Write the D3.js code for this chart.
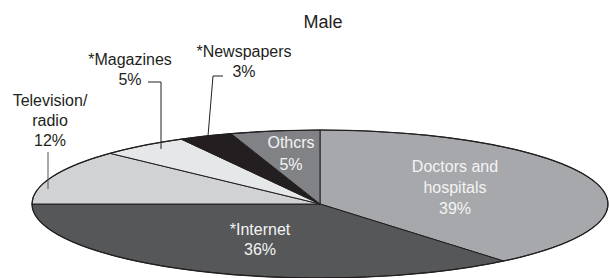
<!DOCTYPE html>
<html>
<head>
<meta charset="utf-8">
<script src="https://cdn.jsdelivr.net/npm/d3@7"></script>
<style>
  body { margin: 0; background: #fff; }
  text { font-family: "Liberation Sans", Arial, sans-serif; }
</style>
</head>
<body>
<div id="chart"></div>
<script>
var svgWidth = 610;
var svgHeight = 278;

// data
var categories = ["Doctors and hospitals", "*Internet", "Television/radio", "*Magazines", "*Newspapers", "Othcrs"];
var shares = [39, 36, 12, 5, 3, 5];
var labelLines = [["Doctors and", "hospitals"], ["*Internet"], ["Television/", "radio"], ["*Magazines"], ["*Newspapers"], ["Othcrs"]];
var title = "Male";

// styling
var fills = ["#a7a8ab", "#555759", "#d1d2d4", "#e6e7e8", "#231f20", "#808285"];
var inside = [true, true, false, false, false, true];

// ellipse geometry
var cx = 320, cy = 204, rx = 288, ry = 74;

// label anchors (centre x, first baseline y)
var labelPos = [[455, 172], [260, 235], [50, 106], [130, 65], [244, 57], [291, 148]];
var lineGap = [21, 20, 20, 20, 20, 22];

var svg = d3.select("#chart")
    .append("svg")
    .attr("width", svgWidth)
    .attr("height", svgHeight);

svg.append("text")
    .attr("x", 323)
    .attr("y", 28)
    .attr("text-anchor", "middle")
    .attr("font-size", "18px")
    .attr("fill", "#231f20")
    .text(title);

var pie = d3.pie().sort(null).value(d => d);
var arcs = pie(shares);

var arc = d3.arc().innerRadius(0).outerRadius(rx);

// pie drawn as a circle then squashed into an ellipse
var pieGroup = svg.append("g")
    .attr("transform", `translate(${cx}, ${cy}) scale(1, ${ry / rx})`);

pieGroup.selectAll("path")
    .data(arcs)
    .enter()
    .append("path")
    .attr("d", arc)
    .attr("fill", (d, i) => fills[i])
    .attr("stroke", "#231f20")
    .attr("stroke-width", 1)
    .attr("stroke-linejoin", "round")
    .attr("vector-effect", "non-scaling-stroke");

pieGroup.append("ellipse")
    .attr("rx", rx)
    .attr("ry", rx)
    .attr("fill", "none")
    .attr("stroke", "#231f20")
    .attr("stroke-width", 1.2)
    .attr("vector-effect", "non-scaling-stroke");

// leader lines for the outside labels
var leaders = [
  null,
  null,
  [[48, 152], [48, 189]],
  [[148, 82], [161, 82], [161, 149]],
  [[223, 76], [213, 76], [208, 136]],
  null
];

var line = d3.line();
leaders.forEach(function(pts, i) {
  if (!pts) return;
  svg.append("path")
    .attr("d", line(pts))
    .attr("fill", "none")
    .attr("stroke", i == 2 ? "#555" : "#231f20")
    .attr("stroke-width", 1);
});

// labels
labelLines.forEach(function(lines, i) {
  var rows = lines.concat([shares[i] + "%"]);
  var t = svg.append("text")
    .attr("text-anchor", "middle")
    .attr("font-size", "16px")
    .attr("fill", inside[i] ? "#f4f4f4" : "#231f20");
  rows.forEach(function(r, j) {
    t.append("tspan")
      .attr("x", labelPos[i][0])
      .attr("y", labelPos[i][1] + j * lineGap[i])
      .text(r);
  });
});
</script>
</body>
</html>
